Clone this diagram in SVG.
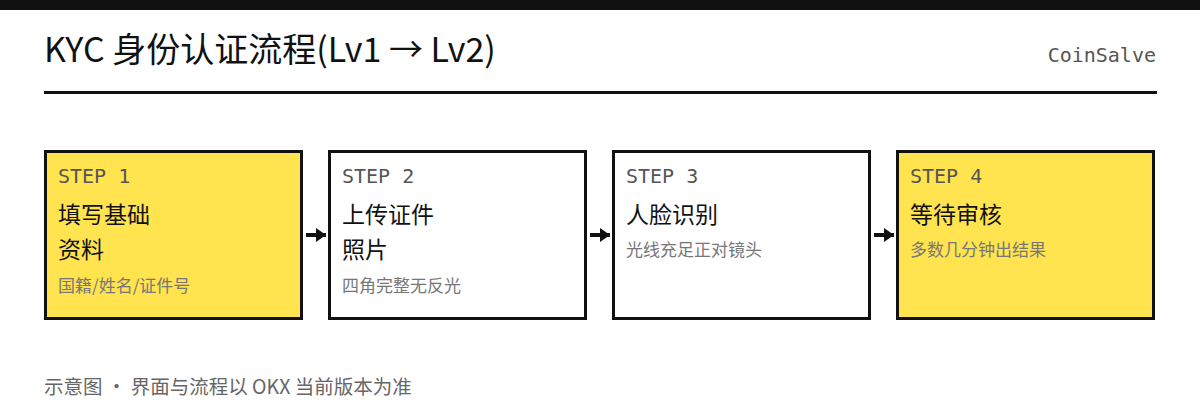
<svg xmlns="http://www.w3.org/2000/svg" width="1200" height="420" viewBox="0 0 1200 420">
<style>
.cjk{font-family:"Noto Sans CJK SC","Noto Sans",sans-serif}
.mono{font-family:"DejaVu Sans Mono","Liberation Mono",monospace}
.box{stroke:#111;stroke-width:3}
.y{fill:#FFE34F}
.w{fill:#fff}
.step{font-size:20px;fill:#555}
.ttl{font-size:23px;fill:#111}
.sub{font-size:17px;fill:#777}
.conn{stroke:#111;stroke-width:4;fill:none}
</style>
<defs>
<marker id="ah2" viewBox="0 0 10 10" refX="10" refY="5" markerWidth="10" markerHeight="14" orient="auto" markerUnits="userSpaceOnUse" preserveAspectRatio="none">
<path d="M0,0 L10,5 L0,10 Z" fill="#111"/>
</marker>
</defs>
<rect x="0" y="0" width="1200" height="420" fill="#fff"/>
<rect x="0" y="0" width="1200" height="10" fill="#111"/>
<text x="44" y="62" class="cjk" font-size="34" fill="#111">KYC 身份认证流程(Lv1 → Lv2)</text>
<text x="1156" y="62" class="mono" font-size="20" fill="#555" text-anchor="end">CoinSalve</text>
<rect x="44" y="91" width="1113" height="3" fill="#111"/>

<g id="step1">
<rect class="box y" x="45.5" y="151.5" width="256" height="167"/>
<text x="58" y="183" class="mono step">STEP 1</text>
<text x="58" y="223" class="cjk ttl">填写基础</text>
<text x="58" y="258" class="cjk ttl">资料</text>
<text x="58" y="292" class="cjk sub">国籍/姓名/证件号</text>
</g>
<g id="step2">
<rect class="box w" x="329.5" y="151.5" width="256" height="167"/>
<text x="342" y="183" class="mono step">STEP 2</text>
<text x="342" y="223" class="cjk ttl">上传证件</text>
<text x="342" y="258" class="cjk ttl">照片</text>
<text x="342" y="292" class="cjk sub">四角完整无反光</text>
</g>
<g id="step3">
<rect class="box w" x="613.5" y="151.5" width="256" height="167"/>
<text x="626" y="183" class="mono step">STEP 3</text>
<text x="626" y="223" class="cjk ttl">人脸识别</text>
<text x="626" y="256" class="cjk sub">光线充足正对镜头</text>
</g>
<g id="step4">
<rect class="box y" x="897.5" y="151.5" width="256" height="167"/>
<text x="910" y="183" class="mono step">STEP 4</text>
<text x="910" y="223" class="cjk ttl">等待审核</text>
<text x="910" y="256" class="cjk sub">多数几分钟出结果</text>
</g>

<g id="connectors">
<line class="conn" x1="306" y1="235" x2="326" y2="235" marker-end="url(#ah2)"/>
<line class="conn" x1="590" y1="235" x2="610" y2="235" marker-end="url(#ah2)"/>
<line class="conn" x1="874" y1="235" x2="894" y2="235" marker-end="url(#ah2)"/>
</g>

<text x="44" y="394" class="cjk" font-size="19.5" fill="#666">示意图 · 界面与流程以 OKX 当前版本为准</text>
</svg>
